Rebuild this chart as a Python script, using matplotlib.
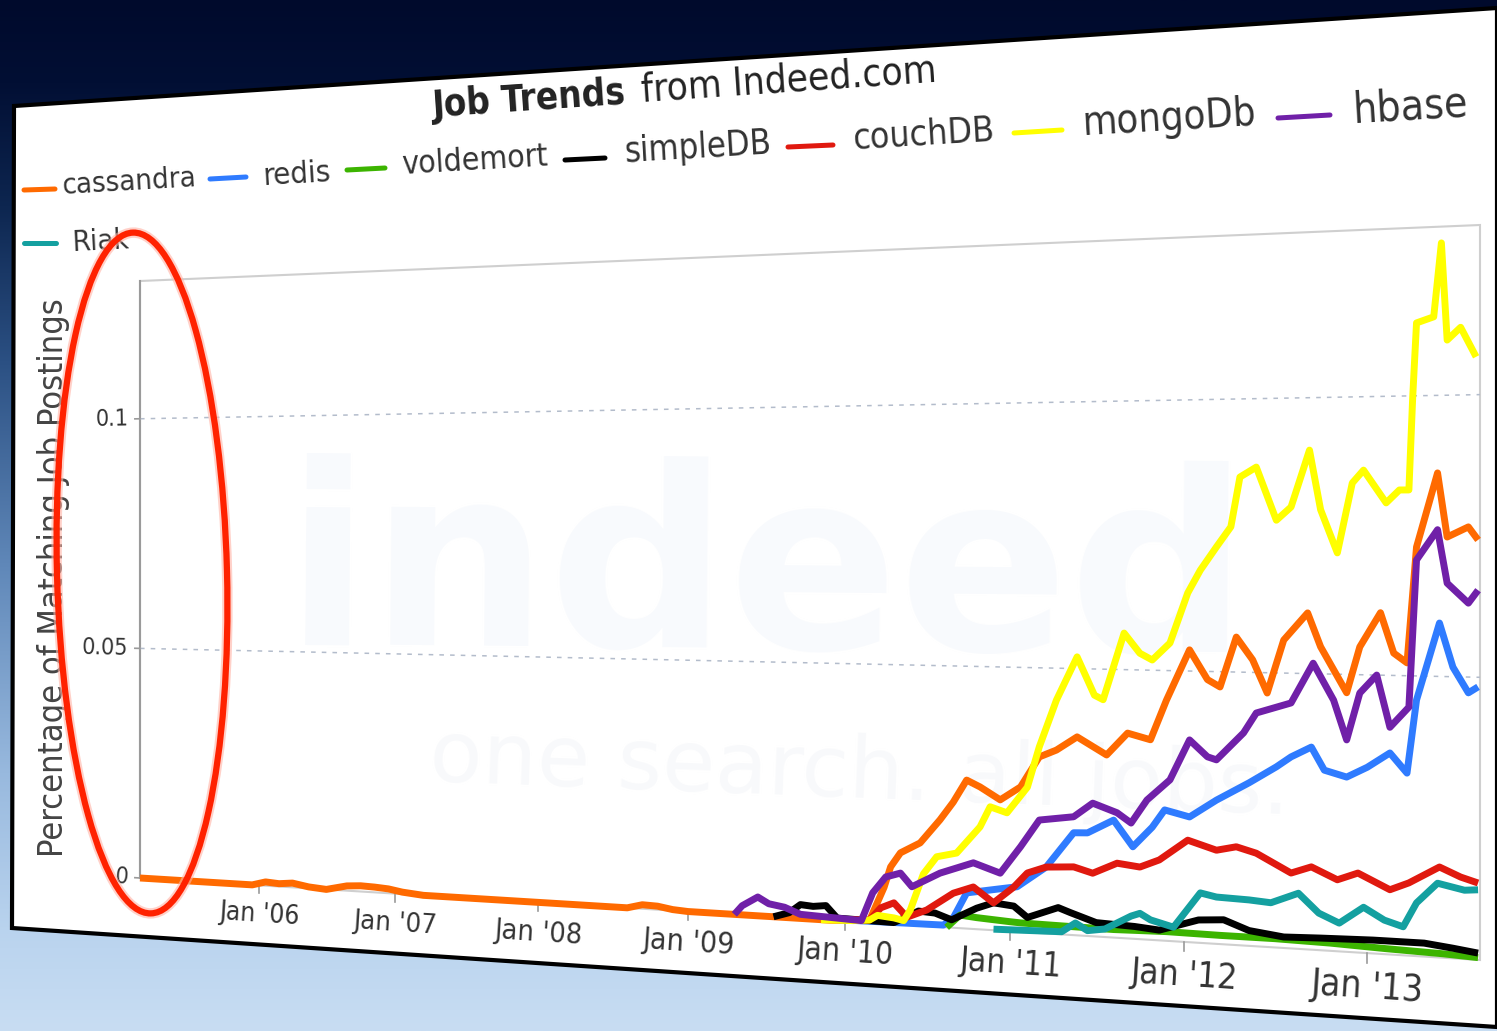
import numpy as np
import matplotlib
from matplotlib import pyplot as plt
from matplotlib import transforms as mtransforms
from matplotlib import font_manager
from matplotlib.patches import Polygon, Ellipse

plt.rcParams.update({"font.family": "DejaVu Sans"})

# ---- data ----
x_start, x_end = 2005.09, 2013.59
y_max = 0.13
tick_years = [2006, 2007, 2008, 2009, 2010, 2011, 2012, 2013]
tick_labels = ["Jan '06", "Jan '07", "Jan '08", "Jan '09", "Jan '10", "Jan '11", "Jan '12", "Jan '13"]
y_ticks = [0, 0.05, 0.1]
y_tick_labels = ["0", "0.05", "0.1"]

cassandra_t = [2005.09, 2005.95, 2006.05, 2006.15, 2006.25, 2006.37, 2006.5, 2006.65, 2006.75, 2006.85,
               2006.95, 2007.05, 2007.2, 2008.6, 2008.7, 2008.8, 2008.9, 2009.0, 2009.9, 2010.1,
               2010.15, 2010.24, 2010.28, 2010.34, 2010.46, 2010.58, 2010.66, 2010.74, 2010.82, 2010.94,
               2011.06, 2011.17, 2011.27, 2011.39, 2011.56, 2011.68, 2011.81, 2011.90, 2012.03, 2012.13,
               2012.20, 2012.29, 2012.38, 2012.46, 2012.55, 2012.68, 2012.75, 2012.89, 2012.96, 2013.07,
               2013.14, 2013.21, 2013.26, 2013.37, 2013.42, 2013.53, 2013.58]
cassandra = [0, 0, 0.0008, 0.0006, 0.0009, 0.0003, 0, 0.0010, 0.0012, 0.0011,
             0.0009, 0.0004, 0, 0, 0.0008, 0.0007, 0.0002, 0, 0, 0.0003,
             0.0004, 0.0070, 0.0110, 0.0138, 0.0159, 0.0205, 0.0240, 0.0283, 0.0271, 0.0248,
             0.0274, 0.0332, 0.0346, 0.0372, 0.0340, 0.0382, 0.0371, 0.0445, 0.0539, 0.0485,
             0.0472, 0.0564, 0.0523, 0.0463, 0.0560, 0.0610, 0.0549, 0.0467, 0.0550, 0.0612,
             0.0540, 0.0523, 0.0730, 0.0862, 0.0748, 0.0766, 0.0743]

redis_t = [2009.9, 2010.6, 2010.66, 2010.74, 2010.88, 2011.04, 2011.21, 2011.37, 2011.45, 2011.60,
           2011.71, 2011.82, 2011.89, 2012.03, 2012.18, 2012.36, 2012.51, 2012.59, 2012.70, 2012.77,
           2012.89, 2013.00, 2013.12, 2013.21, 2013.26, 2013.38, 2013.45, 2013.53, 2013.58]
redis = [0.0002, 0.0004, 0.0019, 0.0068, 0.0076, 0.0085, 0.0125, 0.0192, 0.0193, 0.0219,
         0.0171, 0.0209, 0.0242, 0.0231, 0.0264, 0.0298, 0.0329, 0.0348, 0.0367, 0.0326,
         0.0315, 0.0334, 0.0361, 0.0326, 0.0457, 0.0595, 0.0517, 0.0472, 0.0483]

voldemort_t = [2010.62, 2010.70, 2010.8, 2011.0, 2011.06, 2011.3, 2011.6, 2011.9, 2012.2, 2012.5,
               2012.8, 2013.1, 2013.4, 2013.58]
voldemort = [0, 0.0025, 0.0022, 0.0018, 0.0017, 0.0016, 0.0015, 0.0017, 0.0016, 0.0016,
             0.0014, 0.0010, 0.0007, 0.0004]

simpledb_t = [2009.55, 2009.65, 2009.72, 2009.80, 2009.88, 2009.95, 2010.3, 2010.45, 2010.55, 2010.65,
              2010.8, 2010.9, 2011.02, 2011.10, 2011.28, 2011.35, 2011.50, 2011.72, 2011.86, 2012.08,
              2012.22, 2012.36, 2012.55, 2012.75, 2013.03, 2013.30, 2013.45, 2013.58]
simpledb = [0, 0.0010, 0.0027, 0.0025, 0.0028, 0.0005, 0.0003, 0.0028, 0.0026, 0.0015,
            0.0040, 0.0052, 0.0048, 0.0028, 0.0050, 0.0042, 0.0026, 0.0023, 0.0019, 0.0042,
            0.0045, 0.0028, 0.0020, 0.0022, 0.0024, 0.0024, 0.0018, 0.0012]

couchdb_t = [2009.9, 2010.15, 2010.22, 2010.30, 2010.38, 2010.50, 2010.66, 2010.78, 2010.90, 2011.02,
             2011.10, 2011.21, 2011.37, 2011.48, 2011.62, 2011.75, 2011.86, 2012.02, 2012.18, 2012.29,
             2012.40, 2012.59, 2012.70, 2012.84, 2012.95, 2013.12, 2013.22, 2013.38, 2013.49, 2013.58]
couchdb = [0.0002, 0.0005, 0.0030, 0.0041, 0.0015, 0.0031, 0.0066, 0.0080, 0.0052, 0.0084,
           0.0112, 0.0125, 0.0128, 0.0118, 0.0139, 0.0134, 0.0149, 0.0188, 0.0172, 0.0180,
           0.0170, 0.0137, 0.0150, 0.0129, 0.0143, 0.0116, 0.0130, 0.0161, 0.0145, 0.0136]

mongodb_t = [2009.85, 2010.05, 2010.15, 2010.2, 2010.3, 2010.36, 2010.40, 2010.48, 2010.56, 2010.68,
             2010.82, 2010.88, 2010.98, 2011.10, 2011.17, 2011.27, 2011.39, 2011.49, 2011.54, 2011.66,
             2011.75, 2011.82, 2011.92, 2012.02, 2012.09, 2012.18, 2012.26, 2012.31, 2012.40, 2012.51,
             2012.59, 2012.69, 2012.75, 2012.84, 2012.92, 2012.98, 2013.10, 2013.17, 2013.22, 2013.24,
             2013.26, 2013.35, 2013.39, 2013.42, 2013.49, 2013.57]
mongodb = [0, 0.0002, 0.0005, 0.0015, 0.0012, 0.0008, 0.0029, 0.0100, 0.0134, 0.0143,
           0.0195, 0.0234, 0.0224, 0.0274, 0.0351, 0.0440, 0.0522, 0.0451, 0.0443, 0.0568,
           0.0531, 0.0519, 0.0551, 0.0644, 0.0686, 0.0729, 0.0766, 0.0857, 0.0875, 0.0778,
           0.0802, 0.0905, 0.0797, 0.0719, 0.0845, 0.0868, 0.0809, 0.0832, 0.0832, 0.0998,
           0.1130, 0.1140, 0.1271, 0.1098, 0.1120, 0.1067]

hbase_t = [2009.30, 2009.35, 2009.45, 2009.52, 2009.62, 2009.72, 2010.1, 2010.17, 2010.25, 2010.34,
           2010.41, 2010.58, 2010.78, 2010.94, 2011.06, 2011.17, 2011.37, 2011.48, 2011.62, 2011.70,
           2011.79, 2011.92, 2012.03, 2012.13, 2012.18, 2012.33, 2012.40, 2012.59, 2012.71, 2012.82,
           2012.89, 2012.96, 2013.05, 2013.12, 2013.22, 2013.26, 2013.37, 2013.42, 2013.53, 2013.58]
hbase = [0, 0.0018, 0.0037, 0.0025, 0.0020, 0.0008, 0.0003, 0.0058, 0.0090, 0.0099,
         0.0074, 0.0103, 0.0126, 0.0109, 0.0161, 0.0213, 0.0222, 0.0249, 0.0233, 0.0215,
         0.0259, 0.0298, 0.0373, 0.0343, 0.0338, 0.0389, 0.0426, 0.0446, 0.0519, 0.0453,
         0.0382, 0.0467, 0.0500, 0.0407, 0.0444, 0.0707, 0.0761, 0.0666, 0.0631, 0.0654]

riak_t = [2010.9, 2011.3, 2011.38, 2011.45, 2011.55, 2011.7, 2011.75, 2011.81, 2011.94, 2012.09,
          2012.18, 2012.36, 2012.48, 2012.63, 2012.74, 2012.85, 2012.98, 2013.09, 2013.19, 2013.26,
          2013.37, 2013.51, 2013.58]
riak = [0.0002, 0.0005, 0.0023, 0.0010, 0.0015, 0.0042, 0.0048, 0.0037, 0.0026, 0.0092,
        0.0086, 0.0084, 0.0081, 0.0101, 0.0067, 0.0051, 0.0082, 0.0061, 0.0051, 0.0095,
        0.0132, 0.0122, 0.0124]

names = ["cassandra", "redis", "voldemort", "simpleDB", "couchDB", "mongoDb", "hbase", "Riak"]
colors = ["#ff6a00", "#2f7bff", "#3cb400", "#000000", "#e0190f", "#ffff00", "#7020a8", "#14a0a0"]
series = [(cassandra_t, cassandra), (redis_t, redis), (voldemort_t, voldemort), (simpledb_t, simpledb),
          (couchdb_t, couchdb), (mongodb_t, mongodb), (hbase_t, hbase), (riak_t, riak)]

# ---- figure / perspective setup ----
W, H = 1497, 1031
fig = plt.figure(figsize=(W / 100, H / 100), dpi=100)
renderer = fig.canvas.get_renderer()

condensed = any(f.name == "DejaVu Sans" and f.stretch == "condensed"
                for f in font_manager.fontManager.ttflist)
TXT = {"fontstretch": "condensed"} if condensed else {}


def homography(src, dst):
    a, b = [], []
    for (x, y), (X, Y) in zip(src, dst):
        a.append([x, y, 1, 0, 0, 0, -X * x, -X * y]); b.append(X)
        a.append([0, 0, 0, x, y, 1, -Y * x, -Y * y]); b.append(Y)
    h = np.linalg.solve(np.array(a, float), np.array(b, float))
    return np.append(h, 1).reshape(3, 3)


class Perspective(mtransforms.Transform):
    input_dims = output_dims = 2

    def __init__(self, m):
        super().__init__()
        self.m = m

    def transform_non_affine(self, values):
        values = np.asarray(values, dtype=float).reshape(-1, 2)
        p = np.column_stack([values, np.ones(len(values))]) @ self.m.T
        return p[:, :2] / p[:, 2:]


# plot area corners in the slide (pixels, y down)
M = homography([(0, 0), (0, 1), (1, 0), (1, 1)],
               [(140, 878), (140, 281), (1480, 960), (1480, 225)])
PIX = mtransforms.Affine2D().scale(1 / W, -1 / H).translate(0, 1) + fig.transFigure
PLANE = Perspective(M) + PIX

bg = fig.add_axes([0, 0, 1, 1], zorder=0)
stops = [0, 0.08, 0.2, 0.35, 0.55, 0.75, 0.9, 1.0]
stop_cols = ["#000a2c", "#020f34", "#0d2650", "#2b5083", "#6088b9", "#98b9de", "#b9d3ee", "#c8ddf3"]
rgb = np.array([matplotlib.colors.to_rgb(c) for c in stop_cols])
yy = np.linspace(0, 1, 600)
grad = np.stack([np.interp(yy, stops, rgb[:, k]) for k in range(3)], axis=1)[:, None, :]
bg.imshow(grad, aspect="auto", extent=[0, 1, 0, 1], origin="upper")
bg.set_axis_off()

ax = fig.add_axes([0, 0, 1, 1], zorder=1)
ax.set_axis_off()
ax.set_xlim(x_start, x_end)
ax.set_ylim(0, y_max)
DATA = ax.transScale + ax.transLimits + PLANE


def angle_at(px, py):
    p = np.linalg.solve(M, [px, py, 1.0])
    u, v = p[:2] / p[2]
    d = PLANE.transform([[u + 0.01, v]])[0] - PLANE.transform([[u, v]])[0]
    return np.degrees(np.arctan2(d[1], d[0]))


def put_text(s, x0, x1, y, color="#333333", **kw):
    t = ax.text(x0, y, s, transform=PIX, ha="left", va="center", fontsize=20, color=color,
                zorder=6, **TXT, **kw)
    w = t.get_window_extent(renderer).width
    t.set_fontsize(20 * (x1 - x0) / w)
    t.set_rotation(angle_at(x0, y))
    t.set_rotation_mode("anchor")
    return t


# slide panel
ax.add_patch(Polygon([(14, 106), (1497, 8), (1497, 1027), (12, 928)], closed=True, transform=PIX,
                     fc="white", ec="black", lw=3, zorder=1))

# faint indeed watermark
for s, x0, x1, yc, fw, col in [("indeed", 285, 1250, 575, "bold", "#f8fafd"),
                               ("one search. all jobs.", 430, 1290, 758, "normal", "#f8f9fb")]:
    t = ax.text(x0, yc, s, transform=PIX, ha="left", va="center", fontsize=100, color=col,
                fontweight=fw, zorder=2)
    t.set_fontsize(100 * (x1 - x0) / t.get_window_extent(renderer).width)
    t.set_rotation(angle_at(x0, yc))
    t.set_rotation_mode("anchor")

# plot frame and grid
ax.add_patch(Polygon([(0, 0), (1, 0), (1, 1), (0, 1)], closed=True, transform=PLANE,
                     fill=False, ec="#cfcfcf", lw=1.5, zorder=3))
ax.plot([0, 0], [0, 1], transform=PLANE, color="#9a9a9a", lw=1.5, zorder=3)
for yv in y_ticks[1:]:
    ax.plot([x_start, x_end], [yv, yv], transform=DATA, color="#b3bccb", lw=1.1,
            ls=(0, (3, 4)), zorder=3)

# x ticks
for yr, lab in zip(tick_years, tick_labels):
    ax.plot([yr, yr], [0, -0.0017], transform=DATA, color="#9a9a9a", lw=1.2, zorder=3)
    p0, p1 = DATA.transform([(yr - 0.3, -0.0062), (yr + 0.3, -0.0062)])
    t = ax.text(yr, -0.0062, lab, transform=DATA, ha="center", va="center", fontsize=20,
                color="#333333", zorder=6, **TXT)
    t.set_fontsize(20 * np.hypot(*(p1 - p0)) / t.get_window_extent(renderer).width)
    t.set_rotation(np.degrees(np.arctan2(p1[1] - p0[1], p1[0] - p0[0])))
    t.set_rotation_mode("anchor")

# y ticks
probe = ax.text(0, 0, "0.05", fontsize=20, **TXT)
fs_y = 20 * 46 / probe.get_window_extent(renderer).width
probe.remove()
for yv, lab in zip(y_ticks, y_tick_labels):
    ax.plot([x_start - 0.04, x_start], [yv, yv], transform=DATA, color="#9a9a9a", lw=1.2, zorder=3)
    p0, p1 = DATA.transform([(x_start - 0.1, yv), (x_start, yv)])
    t = ax.text(x_start - 0.09, yv, lab, transform=DATA, ha="right", va="center", fontsize=fs_y,
                color="#333333", zorder=6, **TXT)
    t.set_rotation(np.degrees(np.arctan2(p1[1] - p0[1], p1[0] - p0[0])))
    t.set_rotation_mode("anchor")

# y axis label
t = ax.text(54, 578, "Percentage of Matching Job Postings", transform=PIX, ha="center", va="center",
            fontsize=20, color="#444444", zorder=6, **TXT)
t.set_fontsize(20 * 560 / t.get_window_extent(renderer).width)
t.set_rotation(90)

# data lines
for (tt, vals), name, col in zip(series, names, colors):
    ax.plot(tt, vals, transform=DATA, color=col, lw=5.0, solid_joinstyle="round",
            solid_capstyle="butt", zorder=5)

# title
put_text("Job Trends", 433, 627, 107, color="#222222", fontweight="bold")
put_text("from Indeed.com", 641, 937, 91, color="#222222")

# legend
legend_pos = [((24, 190, 55, 189), (62, 196, 186)),
              ((210, 179, 246, 177), (263, 331, 177)),
              ((347, 170, 385, 168), (402, 548, 166)),
              ((565, 160, 605, 158), (624, 772, 152)),
              ((788, 147, 833, 145), (853, 995, 139)),
              ((1014, 133, 1062, 130), (1083, 1257, 124)),
              ((1278, 118, 1330, 115), (1353, 1468, 111)),
              ((24, 243, 56, 243), (72, 129, 243))]
for name, col, (seg, lab) in zip(names, colors, legend_pos):
    ax.plot([seg[0], seg[2]], [seg[1], seg[3]], transform=PIX, color=col, lw=3.6,
            solid_capstyle="round", zorder=6)
    put_text(name, lab[0], lab[1], lab[2])

# red highlight ellipse
ax.add_patch(Ellipse((142, 573), 170, 681, angle=-1.5, transform=PIX, fill=False,
                     ec="#ffb3a6", lw=7.5, alpha=0.6, zorder=9))
ax.add_patch(Ellipse((142, 573), 170, 681, angle=-1.5, transform=PIX, fill=False,
                     ec="#ff2200", lw=4.5, zorder=10))

fig.savefig("out.png", dpi=100)
